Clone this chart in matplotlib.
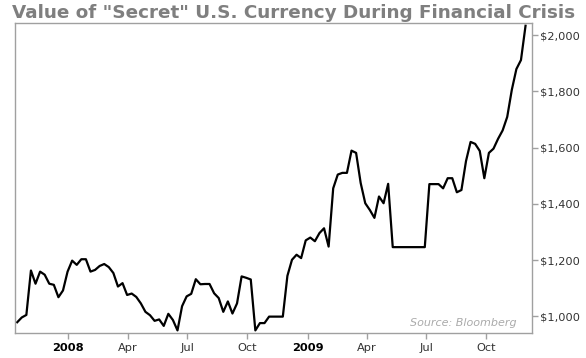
import pandas as pd
import matplotlib
matplotlib.use('Agg')
import matplotlib.pyplot as plt
import matplotlib.dates as mdates
from matplotlib.ticker import FuncFormatter

# weekly closes, first week 2007-10-15
start_date = '2007-10-15'
values = [979, 996, 1005, 1163, 1116, 1159, 1148, 1116, 1112, 1068,
          1092, 1159, 1198, 1183, 1203, 1203, 1159, 1165, 1179, 1186,
          1175, 1154, 1106, 1118, 1076, 1081, 1069, 1046, 1016, 1004,
          984, 989, 966, 1009, 987, 950, 1036, 1071, 1080, 1132,
          1114, 1115, 1115, 1082, 1065, 1016, 1053, 1010, 1046, 1142,
          1137, 1131, 950, 976, 976, 999, 999, 999, 999, 1144,
          1201, 1219, 1207, 1270, 1280, 1267, 1296, 1313, 1248, 1455,
          1504, 1510, 1510, 1589, 1581, 1474, 1402, 1378, 1350, 1426,
          1402, 1471, 1246, 1246, 1246, 1246, 1246, 1246, 1246, 1246,
          1470, 1470, 1470, 1455, 1491, 1491, 1441, 1449, 1552, 1620,
          1613, 1588, 1491, 1581, 1596, 1631, 1661, 1709, 1805, 1879,
          1911, 2033]
dates = pd.date_range(start_date, periods=len(values), freq='7D')

y_ticks = [1000, 1200, 1400, 1600, 1800, 2000]
title = 'Value of "Secret" U.S. Currency During Financial Crisis'
source = 'Source: Bloomberg'

grey = '#a0a0a0'


def date_label(x, pos):
    d = mdates.num2date(x)
    if d.month == 1:
        return str(d.year)
    return d.strftime('%b')


fig = plt.figure(figsize=(5.86, 3.58), dpi=100)
ax = fig.add_axes([0.026, 0.070, 0.882, 0.866])

ax.plot(dates, values, color='black', lw=1.6, solid_joinstyle='round')

ax.set_xlim(pd.Timestamp('2007-10-12'), pd.Timestamp('2009-12-10'))
ax.set_ylim(941, 2043)

for s in ax.spines.values():
    s.set_color(grey)
    s.set_linewidth(1)

ax.yaxis.tick_right()
ax.set_yticks(y_ticks)
ax.yaxis.set_major_formatter(FuncFormatter(lambda v, p: '${:,.0f}'.format(v)))
ax.tick_params(axis='y', length=4, width=1, color=grey, pad=2,
               labelsize=8.2, labelcolor='#333333')

ax.xaxis.set_major_locator(mdates.MonthLocator(bymonth=[1, 4, 7, 10]))
ax.xaxis.set_major_formatter(FuncFormatter(date_label))
ax.tick_params(axis='x', length=4, width=1, color=grey, pad=3,
               labelsize=8.2, labelcolor='#333333')
fig.canvas.draw()
for lab in ax.get_xticklabels():
    if lab.get_text()[:2] == '20':
        lab.set_fontweight('bold')
        lab.set_color('black')

ax.text(0.97, 0.015, source, transform=ax.transAxes, ha='right', va='bottom',
        fontsize=8, style='italic', color='#aaaaaa')

fig.text(0.021, 0.99, title, ha='left', va='top', fontsize=13.2,
         fontweight='bold', color='#7f7f7f')

fig.savefig('out.png', dpi=100)
